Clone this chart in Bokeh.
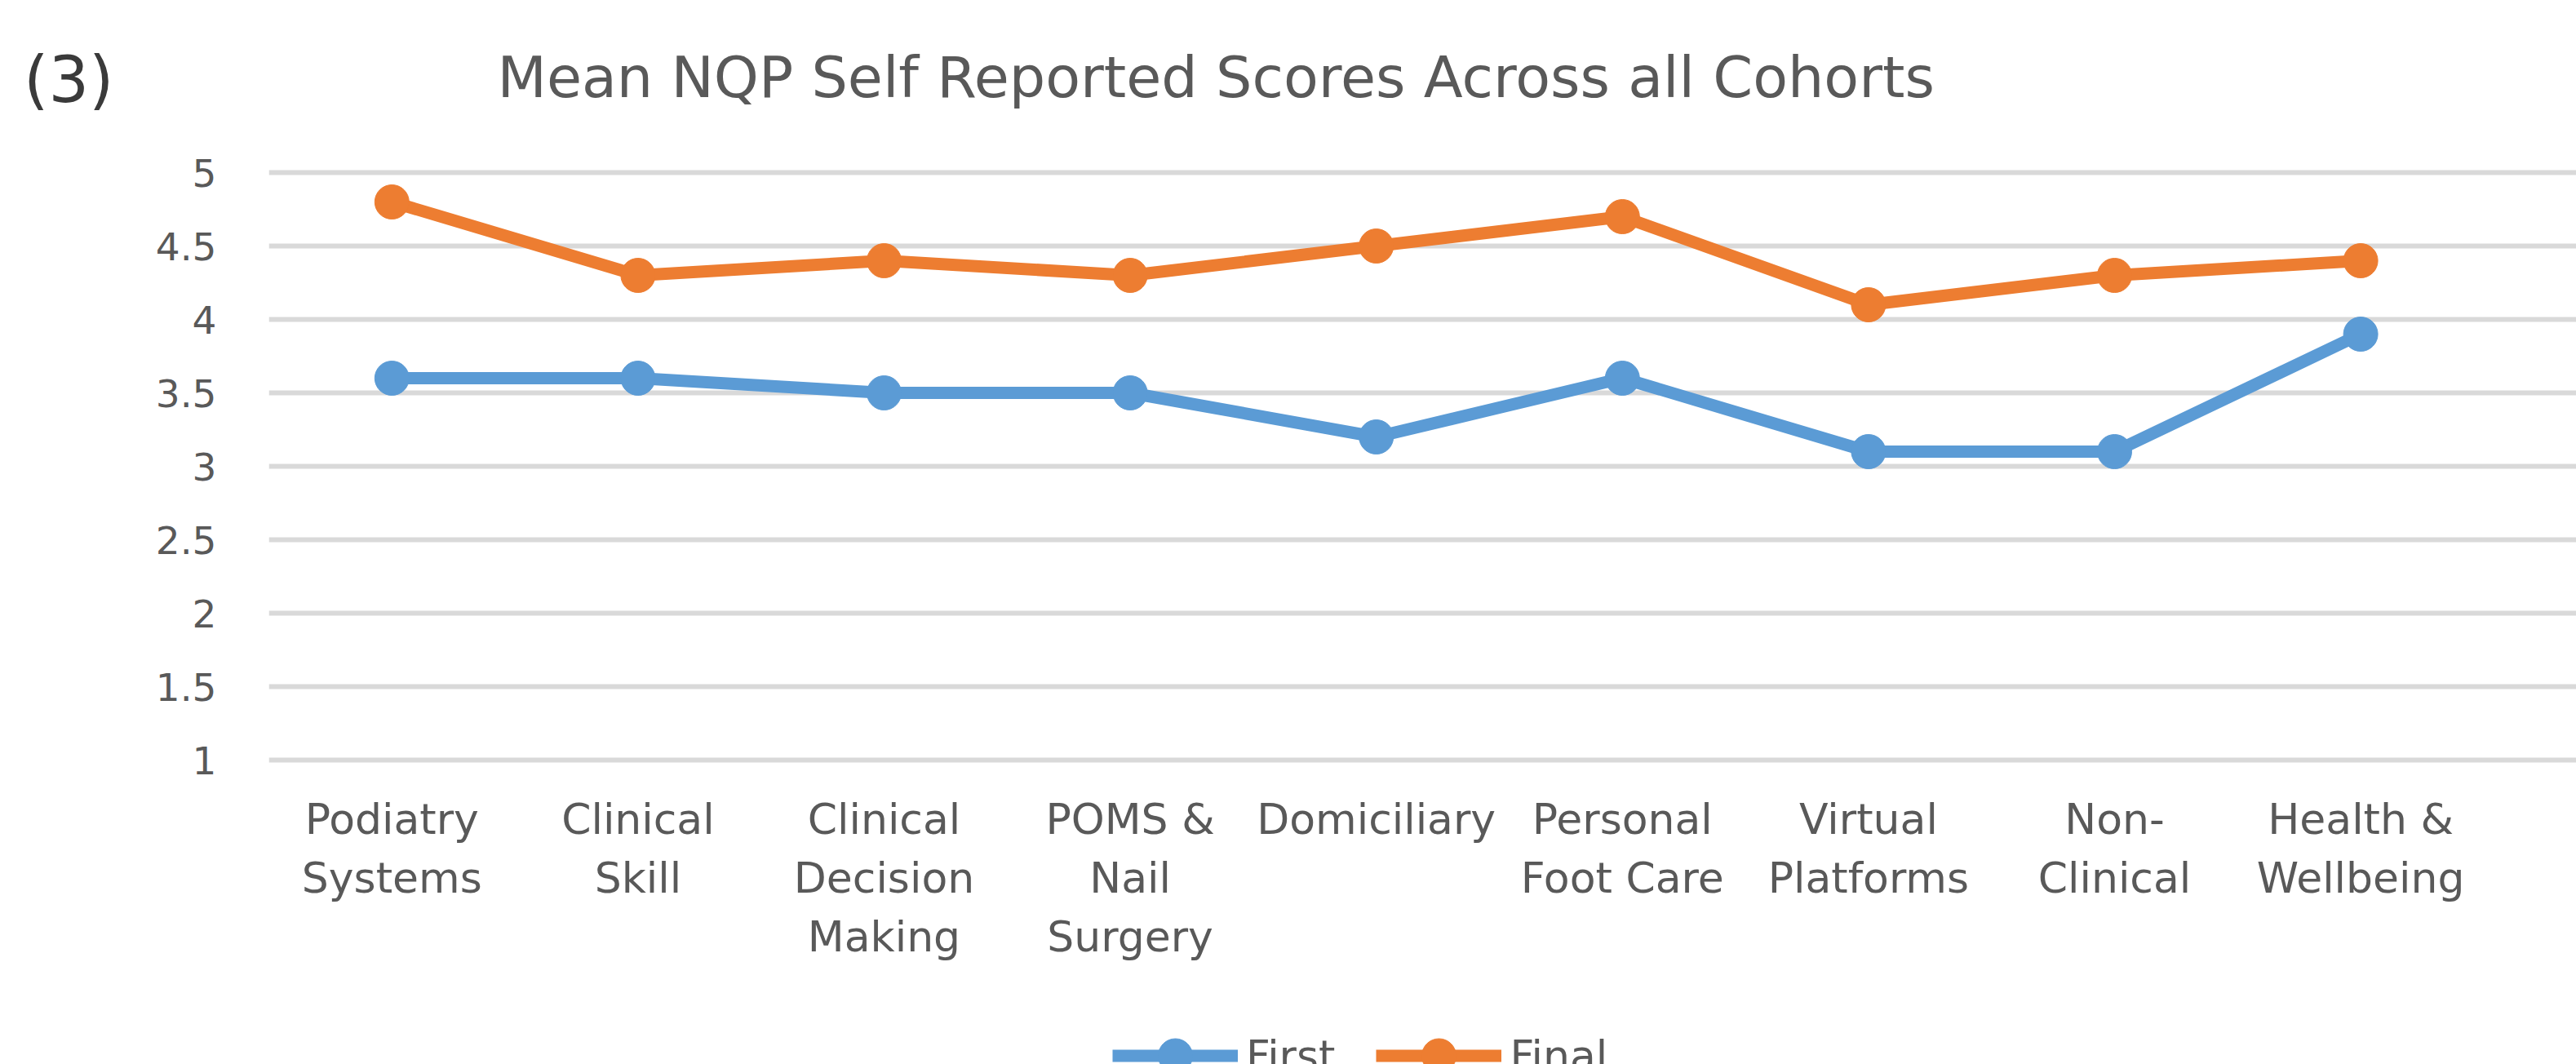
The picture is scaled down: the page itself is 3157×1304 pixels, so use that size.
from bokeh.plotting import figure
from bokeh.models import (FixedTicker, Range1d, Legend, LegendItem, Label, LinearAxis)
from bokeh.embed import file_html
from bokeh.resources import INLINE

# ---- data ----
categories = ["Podiatry\nSystems", "Clinical\nSkill", "Clinical\nDecision\nMaking",
              "POMS &\nNail\nSurgery", "Domiciliary", "Personal\nFoot Care",
              "Virtual\nPlatforms", "Non-\nClinical", "Health &\nWellbeing"]
first_scores = [3.6, 3.6, 3.5, 3.5, 3.2, 3.6, 3.1, 3.1, 3.9]
final_scores = [4.8, 4.3, 4.4, 4.3, 4.5, 4.7, 4.1, 4.3, 4.4]
y_ticks = [1, 1.5, 2, 2.5, 3, 3.5, 4, 4.5, 5]
title_text = "Mean NQP Self Reported Scores Across all Cohorts"
panel_tag = "(3)"

BLUE = "#5B9BD5"
ORANGE = "#ED7D31"
GRID = "#D9D9D9"
TEXT = "#595959"
FONT = "DejaVu Sans"

# ---- layout constants (pixels) ----
W, H = 3157, 1304
LEFT = 329            # frame left edge
Y5_PX = 211           # screen y of value 5 (from top)
PX_PER_UNIT = 180.0
band = 301.6          # px per category
frame_w = W - LEFT
y_start = 5 - (H - Y5_PX) / PX_PER_UNIT
y_end = 5 + Y5_PX / PX_PER_UNIT
xs = list(range(len(categories)))

p = figure(width=W, height=H, output_backend="svg", toolbar_location=None,
           title=None,
           x_range=Range1d(-0.5, -0.5 + frame_w / band),
           y_range=Range1d(y_start, y_end),
           min_border_left=LEFT, min_border_right=0, min_border_top=0,
           min_border_bottom=0)
p.outline_line_color = None
p.background_fill_color = "white"
p.border_fill_color = "white"

# x axis sits on the value-1 line
p.xaxis.fixed_location = 1
p.xaxis.ticker = FixedTicker(ticks=xs)
p.xaxis.major_label_overrides = {i: c for i, c in zip(xs, categories)}
p.yaxis.ticker = FixedTicker(ticks=y_ticks)
p.yaxis.major_label_overrides = {t: f"{t:g}" for t in y_ticks}
for ax in (p.xaxis, p.yaxis):
    ax.axis_line_color = None
    ax.major_tick_line_color = None
    ax.minor_tick_line_color = None
    ax.major_tick_in = 0
    ax.major_tick_out = 0
    ax.major_label_text_font = FONT
    ax.major_label_text_color = TEXT
p.xaxis.major_label_text_font_size = "52px"
p.xaxis.major_label_standoff = 42
p.yaxis.major_label_text_font_size = "47px"
p.yaxis.major_label_standoff = 64

p.xgrid.grid_line_color = None
p.ygrid.ticker = FixedTicker(ticks=y_ticks)
p.ygrid.grid_line_color = GRID
p.ygrid.grid_line_width = 6

# panel tag "(3)" as an outer left axis label
tag_y = 5.63
p.extra_y_ranges = {"tag": Range1d(y_start, y_end)}
tag_axis = LinearAxis(y_range_name="tag", ticker=FixedTicker(ticks=[tag_y]),
                      major_label_overrides={tag_y: panel_tag},
                      axis_line_color=None, major_tick_line_color=None,
                      minor_tick_line_color=None, major_tick_in=0, major_tick_out=0,
                      major_label_standoff=48, major_label_text_font=FONT,
                      major_label_text_font_size="78px",
                      major_label_text_color="#3A3A3A")
p.add_layout(tag_axis, "left")

# title
title = Label(x=-0.5 + (609 - LEFT) / band, y=5 + (Y5_PX - 94) / PX_PER_UNIT,
              text=title_text, text_font=FONT, text_font_size="70px",
              text_color=TEXT, text_align="left", text_baseline="middle")
p.add_layout(title)

# series
l1 = p.line(xs, first_scores, line_color=BLUE, line_width=15, line_join="round")
s1 = p.scatter(xs, first_scores, size=42, fill_color=BLUE, line_color=BLUE)
l2 = p.line(xs, final_scores, line_color=ORANGE, line_width=15, line_join="round")
s2 = p.scatter(xs, final_scores, size=42, fill_color=ORANGE, line_color=ORANGE)

legend = Legend(items=[LegendItem(label="First", renderers=[l1, s1]),
                       LegendItem(label="Final", renderers=[l2, s2])],
                orientation="horizontal", location=(1034, -42),
                glyph_width=154, glyph_height=105, label_standoff=10, spacing=50,
                padding=0, margin=0, border_line_color=None,
                background_fill_alpha=0, label_text_font=FONT,
                label_text_font_size="52px", label_text_color=TEXT)
p.add_layout(legend)

open("out.html", "w").write(file_html(p, INLINE))
